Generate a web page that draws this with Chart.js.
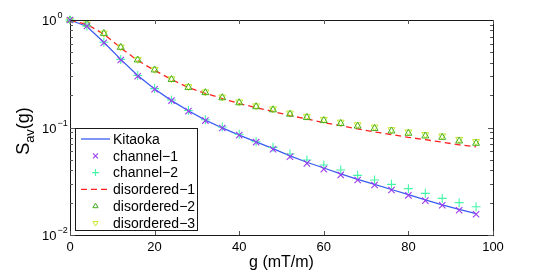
<!DOCTYPE html>
<html>
<head>
<meta charset="utf-8">
<script src="https://cdn.jsdelivr.net/npm/chart.js@4.4.1/dist/chart.umd.min.js"></script>
<style>
  html, body { margin: 0; padding: 0; background: #fff; }
</style>
</head>
<body>
<canvas id="sChart" width="545" height="273"></canvas>
<script>
const gValues = [0, 4, 8, 12, 16, 20, 24, 28, 32, 36, 40, 44, 48, 52, 56, 60, 64, 68, 72, 76, 80, 84, 88, 92, 96];
const kitaoka = [1, 0.87, 0.62, 0.43, 0.305, 0.228, 0.178, 0.143, 0.117, 0.099, 0.085, 0.0735, 0.0635, 0.0545, 0.0475, 0.042, 0.037, 0.033, 0.0296, 0.0265, 0.0237, 0.0212, 0.0191, 0.0173, 0.0158];
const channel1 = [1, 0.88, 0.615, 0.425, 0.30, 0.227, 0.178, 0.142, 0.116, 0.099, 0.085, 0.073, 0.0627, 0.0535, 0.0464, 0.041, 0.0362, 0.0325, 0.0292, 0.0262, 0.0234, 0.0209, 0.0189, 0.017, 0.0156];
const channel2 = [1, 0.88, 0.62, 0.43, 0.305, 0.23, 0.18, 0.144, 0.118, 0.101, 0.0865, 0.0738, 0.0654, 0.0567, 0.0499, 0.0448, 0.0402, 0.0359, 0.0325, 0.0296, 0.027, 0.0244, 0.0219, 0.02, 0.0183];
const disordered1 = [1, 0.91, 0.74, 0.55, 0.42, 0.34, 0.28, 0.235, 0.208, 0.186, 0.167, 0.153, 0.141, 0.129, 0.12, 0.111, 0.104, 0.097, 0.091, 0.086, 0.081, 0.077, 0.073, 0.069, 0.066];
const disordered2 = [1, 0.918, 0.75, 0.557, 0.425, 0.343, 0.28, 0.236, 0.211, 0.189, 0.17, 0.156, 0.146, 0.133, 0.124, 0.116, 0.109, 0.103, 0.098, 0.0928, 0.0883, 0.0834, 0.081, 0.0749, 0.0713];
const disordered3 = [1, 0.92, 0.755, 0.562, 0.43, 0.347, 0.284, 0.24, 0.214, 0.192, 0.173, 0.159, 0.149, 0.136, 0.127, 0.119, 0.112, 0.106, 0.101, 0.0955, 0.091, 0.086, 0.0835, 0.0775, 0.074];
const xTicks = [0, 20, 40, 60, 80, 100];
const yTicks = [1, 0.1, 0.01];
const yTickExponents = ['0', '\u22121', '\u22122'];

const FONT = '"Liberation Sans", Arial, Helvetica, sans-serif';

function pts(arr) {
    return gValues.map((g, i) => ({ x: g, y: arr[i] }));
}

const datasets = [
    { label: 'Kitaoka', data: pts(kitaoka), borderColor: '#3a5cf2', borderWidth: 1.3, pointRadius: 0, showLine: true, order: 6 },
    { label: 'channel\u22121', data: pts(channel1), borderColor: '#9a3cf0', pointStyle: 'crossRot', pointRadius: 4.5, pointBorderWidth: 1.1, showLine: false, order: 1 },
    { label: 'channel\u22122', data: pts(channel2), borderColor: '#45f5a8', pointStyle: 'cross', pointRadius: 4.5, pointBorderWidth: 1.1, showLine: false, order: 2 },
    { label: 'disordered\u22121', data: pts(disordered1), borderColor: '#ff2222', borderWidth: 1.3, borderDash: [6, 4], pointRadius: 0, showLine: true, order: 5 },
    { label: 'disordered\u22122', data: pts(disordered2), borderColor: '#44b022', pointStyle: 'triangle', pointRadius: 4, pointBorderWidth: 1, showLine: false, order: 3 },
    { label: 'disordered\u22123', data: pts(disordered3), borderColor: '#c8e830', pointStyle: 'triangle', pointRotation: 180, pointRadius: 4, pointBorderWidth: 1, showLine: false, order: 4 },
];
datasets.forEach(d => { d.backgroundColor = 'rgba(0,0,0,0)'; d.fill = false; d.clip = false; });

const matlabAxes = {
    id: 'matlabAxes',
    afterDatasetsDraw(chart) {
        const ctx = chart.ctx;
        const a = chart.chartArea;
        const xs = chart.scales.x;
        const ys = chart.scales.y;
        ctx.save();

        // box
        ctx.strokeStyle = '#1a1a1a';
        ctx.lineWidth = 1;
        ctx.strokeRect(Math.round(a.left) + 0.5, Math.round(a.top) + 0.5, Math.round(a.right - a.left), Math.round(a.bottom - a.top));

        // x ticks, inward
        ctx.strokeStyle = '#555';
        xTicks.forEach(v => {
            const px = Math.round(xs.getPixelForValue(v)) + 0.5;
            ctx.beginPath();
            ctx.moveTo(px, a.bottom); ctx.lineTo(px, a.bottom - 4);
            ctx.moveTo(px, a.top); ctx.lineTo(px, a.top + 4);
            ctx.stroke();
        });

        // y ticks, major and minor, inward on both sides
        [0.01, 0.1].forEach(d => {
            for (let m = 1; m <= 9; m++) {
                const v = m * d;
                const py = Math.round(ys.getPixelForValue(v)) + 0.5;
                const len = m === 1 ? 5 : 3;
                ctx.beginPath();
                ctx.moveTo(a.left, py); ctx.lineTo(a.left + len, py);
                ctx.moveTo(a.right, py); ctx.lineTo(a.right - len, py);
                ctx.stroke();
            }
        });

        // y tick labels 10^n
        ctx.fillStyle = '#000';
        ctx.textBaseline = 'alphabetic';
        ctx.textAlign = 'left';
        yTicks.forEach((v, i) => {
            const py = ys.getPixelForValue(v);
            ctx.font = '13px ' + FONT;
            ctx.fillText('10', 42, py + 5);
            const w = ctx.measureText('10').width;
            ctx.font = '9px ' + FONT;
            ctx.fillText(yTickExponents[i], 42 + w + 1, py - 2);
        });

        // y title S_av(g)
        ctx.save();
        ctx.translate(29, 131);
        ctx.rotate(-Math.PI / 2);
        ctx.font = '18px ' + FONT;
        const wS = ctx.measureText('S').width;
        const wG = ctx.measureText('(g)').width;
        ctx.font = '13px ' + FONT;
        const wAv = ctx.measureText('av').width;
        let x0 = -(wS + wAv + wG) / 2;
        ctx.font = '18px ' + FONT;
        ctx.fillText('S', x0, 0);
        ctx.font = '13px ' + FONT;
        ctx.fillText('av', x0 + wS, 5);
        ctx.font = '18px ' + FONT;
        ctx.fillText('(g)', x0 + wS + wAv, 0);
        ctx.restore();

        // x title
        ctx.font = '16px ' + FONT;
        ctx.textAlign = 'center';
        ctx.fillText('g (mT/m)', (a.left + a.right) / 2, 267);

        // legend
        const lx = 75.5, ly = 128.5, lw = 122, lh = 102;
        ctx.fillStyle = '#fff';
        ctx.fillRect(lx, ly, lw, lh);
        ctx.strokeStyle = '#1a1a1a';
        ctx.lineWidth = 1;
        ctx.strokeRect(lx, ly, lw, lh);
        ctx.font = '14px ' + FONT;
        ctx.textAlign = 'left';
        ctx.textBaseline = 'middle';
        datasets.forEach((d, i) => {
            const ry = ly + 10.5 + i * 16.8;
            ctx.save();
            if (d.showLine) {
                ctx.strokeStyle = d.borderColor;
                ctx.lineWidth = d.borderWidth;
                ctx.setLineDash(d.borderDash || []);
                ctx.beginPath();
                ctx.moveTo(81, ry); ctx.lineTo(110, ry);
                ctx.stroke();
            } else {
                ctx.strokeStyle = d.borderColor;
                ctx.fillStyle = 'rgba(0,0,0,0)';
                ctx.lineWidth = d.pointBorderWidth;
                Chart.helpers.drawPoint(ctx, {
                    pointStyle: d.pointStyle,
                    rotation: d.pointRotation || 0,
                    radius: d.pointRadius - 1,
                    borderWidth: d.pointBorderWidth
                }, 95.5, ry);
            }
            ctx.restore();
            ctx.fillStyle = '#000';
            ctx.fillText(d.label, 113, ry + 1);
        });

        ctx.restore();
    }
};

new Chart(document.getElementById('sChart'), {
    type: 'scatter',
    data: { datasets: datasets },
    options: {
        responsive: false,
        animation: false,
        devicePixelRatio: 1,
        layout: { padding: { top: 20, right: 52, left: 0, bottom: 0 } },
        plugins: {
            legend: { display: false },
            tooltip: { enabled: false },
        },
        elements: { line: { tension: 0 } },
        scales: {
            x: {
                type: 'linear',
                min: 0,
                max: 100,
                ticks: { stepSize: 20, color: '#000', font: { size: 13, family: FONT }, padding: 5, maxRotation: 0 },
                grid: { display: false, drawTicks: false },
                border: { display: false },
                afterFit: s => { s.height = 38; },
            },
            y: {
                type: 'logarithmic',
                min: 0.01,
                max: 1,
                ticks: { display: false },
                grid: { display: false, drawTicks: false },
                border: { display: false },
                afterFit: s => { s.width = 70; },
            },
        },
    },
    plugins: [matlabAxes],
});
</script>
</body>
</html>
